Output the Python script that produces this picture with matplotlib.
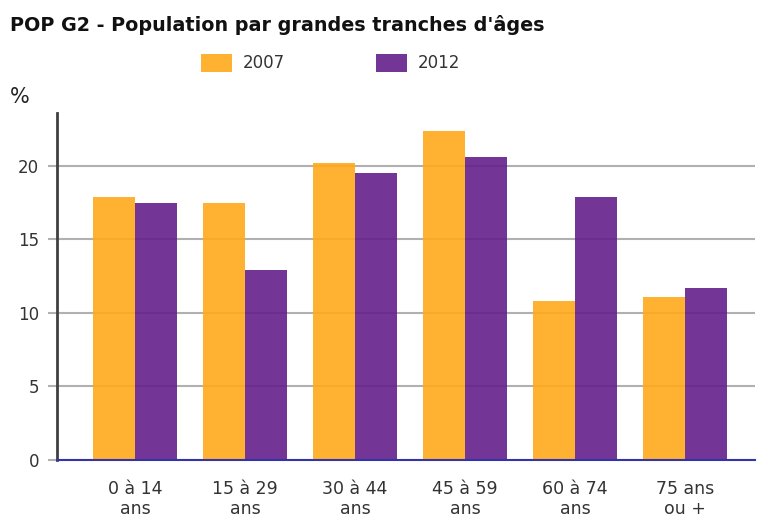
import numpy as np
import matplotlib
matplotlib.use('Agg')
from matplotlib import pyplot as plt
from matplotlib.patches import Patch

# Données
categories = ['0 à 14\nans', '15 à 29\nans', '30 à 44\nans', '45 à 59\nans', '60 à 74\nans', '75 ans\nou +']
val_2007 = [17.9, 17.5, 20.2, 22.4, 10.8, 11.1]
val_2012 = [17.5, 12.9, 19.5, 20.6, 17.9, 11.7]
yticks = [0, 5, 10, 15, 20]

orange = '#FFAA1A'
violet = '#641F8B'

fig = plt.figure(figsize=(7.58, 5.17), dpi=100)
ax = fig.add_axes([0.0752, 0.1103, 0.9208, 0.6711])

x = np.arange(len(categories))
w = 0.382
ax.bar(x - w / 2, val_2007, w, color=orange, alpha=0.9, zorder=3)
ax.bar(x + w / 2, val_2012, w, color=violet, alpha=0.9, zorder=3)

ax.set_xlim(-0.709, 5.636)
ax.set_ylim(0, 23.6)
ax.set_yticks(yticks)
ax.set_yticklabels([str(t) for t in yticks], fontsize=12, color='#333333')
ax.set_xticks(x)
ax.set_xticklabels(categories, fontsize=12.5, color='#333333', linespacing=1.1)
ax.tick_params(axis='x', length=0, pad=14.5)
ax.tick_params(axis='y', length=6.5, width=1.5, color='#b0b0b0', pad=6.5)

ax.yaxis.grid(True, color='#b0b0b0', linewidth=1.5, zorder=1)
ax.set_axisbelow(True)

for s in ['top', 'right']:
    ax.spines[s].set_visible(False)
ax.spines['left'].set_color('#404040')
ax.spines['left'].set_linewidth(2)
ax.spines['bottom'].set_color('#3333aa')
ax.spines['bottom'].set_linewidth(1.5)
ax.spines['bottom'].set_zorder(4)

fig.text(0.013, 0.951, "POP G2 - Population par grandes tranches d'âges",
         fontsize=13.8, fontweight='bold', ha='left', va='center', color='#111111')
fig.text(0.013, 0.812, '%', fontsize=15, ha='left', va='center', color='#222222')

handles = [Patch(facecolor=orange, alpha=0.9, label='2007'),
           Patch(facecolor=violet, alpha=0.9, label='2012')]
fig.legend(handles=handles, loc='center', bbox_to_anchor=(0.4364, 0.878), ncol=2,
           frameon=False, fontsize=12, handlelength=1.86, handleheight=1.32,
           columnspacing=5.45, handletextpad=0.65, labelcolor='#333333')

fig.savefig('out.png', dpi=100)
